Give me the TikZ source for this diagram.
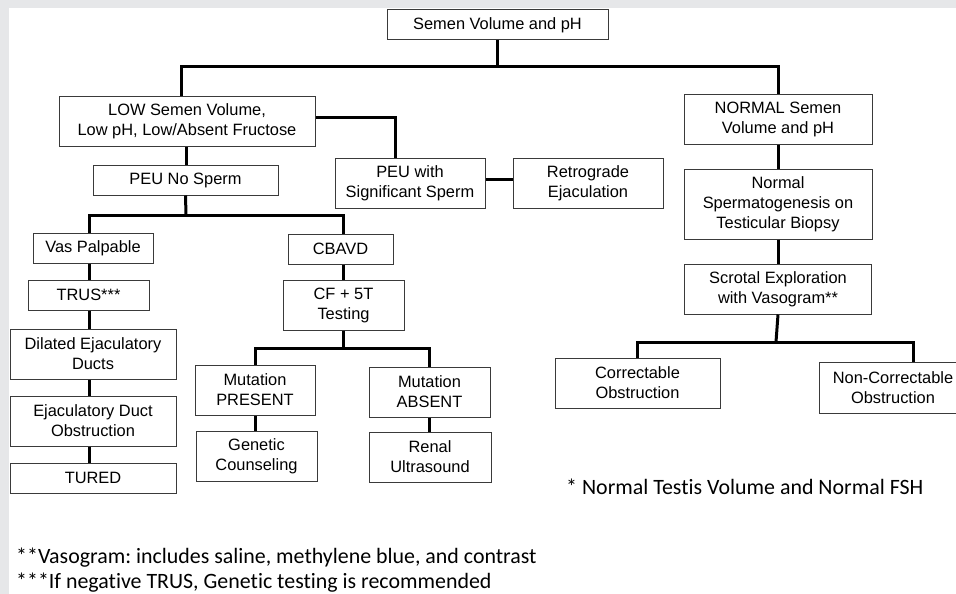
\documentclass[tikz,border=0pt]{standalone}
\usepackage{fontspec}
\setmainfont{Liberation Sans}
\newfontfamily\notefont[Ligatures=NoCommon]{Carlito}
\frenchspacing
\definecolor{bggray}{HTML}{E6E7E9}
\definecolor{boxgray}{HTML}{3A3A3A}
\tikzset{
  box/.style={draw=boxgray, line width=1pt, fill=white, align=center, inner sep=0pt,
    font=\fontsize{16.4}{20}\selectfont, minimum height=30pt},
  conn/.style={line width=3pt},
  note/.style={anchor=west, inner sep=0pt, font=\notefont\fontsize{21.9}{25}\selectfont}
}
\begin{document}
\begin{tikzpicture}[x=1pt,y=-1pt]
        \clip (0,0) rectangle (956,594);
        \fill[bggray] (0,0) rectangle (956,594);
        \fill[white] (9,8) rectangle (956,594);
        \node[box, minimum width=221pt] (top) at (497.5,25) {Semen Volume and pH};
        \node[box, minimum width=256pt, minimum height=50pt] (low) at (187,121) {LOW Semen Volume,\\Low pH, Low/Absent Fructose};
        \node[box, minimum width=150pt, minimum height=50pt] (peusig) at (410,183) {PEU with\\Significant Sperm};
        \node[box, minimum width=150pt, minimum height=50pt] (retro) at (588,183) {Retrograde\\Ejaculation};
        \node[box, minimum width=188pt, minimum height=50pt] (normal) at (778,119) {NORMAL Semen\\Volume and pH};
        \node[box, minimum width=188pt, minimum height=70pt] (spermato) at (778,204) {Normal\\Spermatogenesis on\\Testicular Biopsy};
        \node[box, minimum width=187pt, minimum height=50pt] (scrotal) at (778,289) {Scrotal Exploration\\with Vasogram**};
        \node[box, minimum width=185pt] (peuno) at (185.5,180) {PEU No Sperm};
        \node[box, minimum width=120pt] (vas) at (93,248) {Vas Palpable};
        \node[box, minimum width=105pt] (cbavd) at (340.5,249) {CBAVD};
        \node[box, minimum width=121pt] (trus) at (88.5,295) {TRUS***};
        \node[box, minimum width=121pt, minimum height=50pt] (cf) at (343.5,305) {CF + 5T\\Testing};
        \node[box, minimum width=166pt, minimum height=50pt] (dilated) at (93,354) {Dilated Ejaculatory\\Ducts};
        \node[box, minimum width=166pt, minimum height=50pt] (ejd) at (93,421) {Ejaculatory Duct\\Obstruction};
        \node[box, minimum width=166pt] (tured) at (93,478) {TURED};
        \node[box, minimum width=120pt, minimum height=50pt] (mutp) at (255,390) {Mutation\\PRESENT};
        \node[box, minimum width=121pt, minimum height=50pt] (muta) at (429.5,392) {Mutation\\ABSENT};
        \node[box, minimum width=121pt, minimum height=50pt] (genc) at (256.5,456) {Genetic\\Counseling};
        \node[box, minimum width=122pt, minimum height=50pt] (renal) at (430,457) {Renal\\Ultrasound};
        \node[box, minimum width=165pt, minimum height=50pt] (corr) at (637.5,383) {Correctable\\Obstruction};
        \node[box, minimum width=148pt, minimum height=51pt] (noncorr) at (893,387.5) {Non-Correctable\\Obstruction};
        \coordinate (bartop) at (497.5,67);
        \coordinate (barpeu) at (186,215);
        \coordinate (barcf) at (343.5,348);
        \coordinate (barscr) at (776,342);
        \draw[conn] (top.south) -- (bartop);
        \draw[conn] ([xshift=-6pt]low.north) |- (bartop) -| (normal.north);
        \draw[conn] (low.east |- 0,117) -| ([xshift=-15pt]peusig.north);
        \draw[conn] (peusig.east |- 0,179) -- (retro.west |- 0,179);
        \draw[conn] (peuno.south) -- (barpeu);
        \draw[conn] ([xshift=-4pt]vas.north) |- (barpeu) -| ([xshift=2.5pt]cbavd.north);
        \draw[conn] (cf.south) -- (barcf);
        \draw[conn] (mutp.north) |- (barcf) -| (muta.north);
        \draw[conn] (scrotal.south) -- (barscr);
        \draw[conn] (corr.north) |- (barscr) -| ([xshift=20pt]noncorr.north);
        \foreach \a/\b/\s in {low/peuno/-1,vas/trus/-4,trus/dilated/0.5,dilated/ejd/-4,ejd/tured/-4,cbavd/cf/2.5,mutp/genc/0,muta/renal/-0.5,normal/spermato/0,spermato/scrotal/0}
        \draw[conn] ([xshift=\s pt]\a.south) -- ([xshift=\s pt]\a.south |- \b.north);
        \node[note] (fsh) at (566,487) {* Normal Testis Volume and Normal FSH};
        \node[note] (vasnote) at (16,558) {**Vasogram: includes saline, methylene blue, and contrast};
        \node[note] (trusnote) at (16,583) {***If negative TRUS, Genetic testing is recommended};
        \end{tikzpicture}
\end{document}
